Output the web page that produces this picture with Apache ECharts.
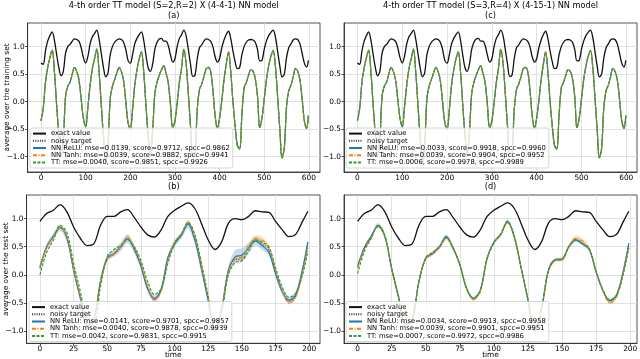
<!DOCTYPE html>
<html>
<head>
<meta http-equiv="Content-Type" content="text/html; charset=UTF-8">
<title>tt_nn_average</title>
<script src="https://cdn.jsdelivr.net/npm/echarts@6.0.0/dist/echarts.min.js"></script>
<style>
  html, body { margin: 0; padding: 0; background: #fff; }
  #main { width: 640px; height: 359px; }
</style>
</head>
<body>
<div id="main"></div>
<script type="text/javascript">
// sample grid: every 5th time step (last point is 599 / 199)
var trainT = [];
for (var t = 0; t < 600; t += 5) trainT.push(t);
trainT.push(599);
var testT = [];
for (var t = 0; t < 200; t += 5) testT.push(t);
testT.push(199);

var trainTicks = [0, 100, 200, 300, 400, 500, 600];
var testTicks = [0, 25, 50, 75, 100, 125, 150, 175, 200];
var yTicks = [-1, -0.5, 0, 0.5, 1];

// ---- training set (top row) ----
var trainExact = [
  0.70, 0.68, 0.92, 1.10, 1.20, 1.27, 1.12, 0.86, 0.62, 0.47,
  0.55, 0.88, 1.00, 1.04, 1.10, 1.14, 1.13, 1.10, 0.98, 0.80,
  0.70, 0.82, 1.05, 1.18, 1.24, 1.30, 1.14, 0.88, 0.62, 0.45,
  0.52, 0.85, 1.00, 1.08, 1.12, 1.14, 1.13, 1.08, 0.95, 0.75,
  0.70, 0.85, 1.05, 1.15, 1.22, 1.27, 1.12, 0.85, 0.62, 0.55,
  0.68, 0.95, 1.08, 1.14, 1.15, 1.10, 1.10, 1.02, 0.85, 0.72,
  0.78, 1.00, 1.15, 1.22, 1.30, 1.20, 0.95, 0.68, 0.46, 0.48,
  0.78, 0.98, 1.03, 1.10, 1.14, 1.13, 1.10, 1.00, 0.82, 0.72,
  0.78, 0.98, 1.12, 1.22, 1.28, 1.15, 0.92, 0.72, 0.60, 0.62,
  0.85, 1.00, 1.08, 1.12, 1.13, 1.12, 1.08, 0.95, 0.74, 0.75,
  0.95, 1.10, 1.20, 1.26, 1.30, 1.18, 0.92, 0.65, 0.45, 0.50,
  0.80, 0.98, 1.05, 1.12, 1.14, 1.13, 1.05, 0.88, 0.70, 0.63,
  0.75
];
var trainTarget = [
  -0.33, -0.14, 0.32, 0.60, 0.80, 0.95, 0.55, -0.08, -0.62, -1.02,
  -0.68, 0.08, 0.27, 0.36, 0.50, 0.63, 0.55, 0.38, 0.02, -0.32,
  -0.47, -0.12, 0.28, 0.58, 0.78, 0.97, 0.55, -0.08, -0.66, -1.10,
  -0.78, 0.03, 0.27, 0.40, 0.53, 0.63, 0.55, 0.36, -0.02, -0.40,
  -0.50, -0.17, 0.28, 0.57, 0.78, 0.92, 0.55, -0.07, -0.62, -0.96,
  -0.53, 0.13, 0.34, 0.48, 0.58, 0.66, 0.52, 0.33, -0.07, -0.48,
  -0.37, -0.04, 0.33, 0.61, 0.96, 0.70, 0.13, -0.47, -1.01, -0.94,
  -0.13, 0.21, 0.32, 0.45, 0.60, 0.63, 0.54, 0.20, -0.27, -0.50,
  -0.32, 0.00, 0.38, 0.67, 0.91, 0.55, -0.02, -0.47, -0.82, -0.87,
  -0.23, 0.24, 0.35, 0.48, 0.58, 0.56, 0.41, 0.08, -0.48, -0.32,
  0.03, 0.38, 0.64, 0.82, 0.94, 0.65, 0.08, -0.52, -1.03, -0.84,
  -0.08, 0.19, 0.30, 0.45, 0.61, 0.55, 0.39, 0.03, -0.37, -0.50,
  -0.27
];
// the three fitted curves overlap at this size on the training set
var trainFit = [
  -0.35, -0.12, 0.35, 0.62, 0.80, 0.93, 0.55, -0.05, -0.60, -1.00,
  -0.70, 0.10, 0.28, 0.35, 0.50, 0.62, 0.55, 0.40, 0.05, -0.30,
  -0.45, -0.10, 0.30, 0.60, 0.78, 0.95, 0.55, -0.05, -0.65, -1.10,
  -0.80, 0.05, 0.28, 0.40, 0.52, 0.62, 0.55, 0.38, 0.00, -0.38,
  -0.50, -0.15, 0.30, 0.58, 0.78, 0.90, 0.55, -0.05, -0.60, -0.95,
  -0.55, 0.15, 0.35, 0.48, 0.58, 0.65, 0.52, 0.35, -0.05, -0.47,
  -0.35, -0.02, 0.35, 0.62, 0.95, 0.70, 0.15, -0.45, -1.00, -0.95,
  -0.15, 0.22, 0.32, 0.45, 0.60, 0.62, 0.55, 0.22, -0.25, -0.48,
  -0.30, 0.02, 0.40, 0.68, 0.90, 0.55, 0.00, -0.45, -0.80, -0.86,
  -0.25, 0.25, 0.35, 0.48, 0.58, 0.55, 0.42, 0.10, -0.47, -0.30,
  0.05, 0.40, 0.65, 0.82, 0.93, 0.65, 0.10, -0.50, -1.02, -0.85,
  -0.10, 0.20, 0.30, 0.45, 0.60, 0.55, 0.40, 0.05, -0.35, -0.48,
  -0.25
];

// ---- test set (bottom row) ----
var testExact = [
  0.95, 1.09, 1.15, 1.25, 1.12, 0.85, 0.65, 0.52, 0.55, 0.88,
  1.04, 1.04, 1.12, 1.16, 1.02, 0.85, 0.71, 0.67, 0.80, 1.04,
  1.15, 1.22, 1.28, 1.18, 0.91, 0.62, 0.45, 0.59, 0.92, 1.00,
  0.98, 1.04, 1.14, 1.12, 1.11, 0.95, 0.80, 0.68, 0.72, 0.95,
  1.13
];
var testTarget = [
  0.15, 0.50, 0.70, 0.85, 0.68, 0.10, -0.40, -0.88, -0.78, -0.10,
  0.28, 0.36, 0.48, 0.66, 0.45, 0.18, -0.25, -0.44, -0.27, 0.30,
  0.58, 0.72, 0.93, 0.65, 0.12, -0.45, -1.00, -0.58, 0.08, 0.27,
  0.28, 0.50, 0.62, 0.55, 0.45, 0.05, -0.28, -0.47, -0.38, 0.05,
  0.57
];
var reluB = [
  0.12, 0.50, 0.68, 0.84, 0.65, 0.08, -0.42, -0.90, -0.80, -0.12,
  0.30, 0.38, 0.50, 0.64, 0.46, 0.15, -0.25, -0.42, -0.26, 0.30,
  0.55, 0.70, 0.90, 0.62, 0.10, -0.46, -1.00, -0.60, 0.08, 0.32,
  0.35, 0.48, 0.60, 0.52, 0.40, 0.02, -0.30, -0.45, -0.35, 0.10,
  0.58
];
var tanhB = [
  0.15, 0.48, 0.68, 0.85, 0.68, 0.10, -0.40, -0.88, -0.78, -0.12,
  0.28, 0.38, 0.50, 0.66, 0.48, 0.20, -0.20, -0.45, -0.30, 0.25,
  0.58, 0.72, 0.92, 0.68, 0.15, -0.42, -0.98, -0.62, 0.05, 0.28,
  0.32, 0.50, 0.64, 0.62, 0.48, 0.08, -0.28, -0.50, -0.40, 0.05,
  0.48
];
var ttB = [
  0.00, 0.40, 0.62, 0.88, 0.75, 0.20, -0.30, -0.82, -0.85, -0.20,
  0.32, 0.45, 0.52, 0.62, 0.50, 0.25, -0.12, -0.35, -0.25, 0.20,
  0.55, 0.72, 0.93, 0.72, 0.20, -0.38, -0.95, -0.65, 0.00, 0.22,
  0.25, 0.42, 0.62, 0.58, 0.50, 0.12, -0.22, -0.40, -0.33, 0.00,
  0.42
];
var reluSpreadB = [
  0.05, 0.06, 0.06, 0.06, 0.06, 0.06, 0.06, 0.08, 0.08, 0.08,
  0.06, 0.06, 0.08, 0.08, 0.08, 0.06, 0.06, 0.06, 0.06, 0.06,
  0.06, 0.06, 0.08, 0.08, 0.08, 0.08, 0.08, 0.08, 0.08, 0.12,
  0.12, 0.10, 0.08, 0.08, 0.06, 0.06, 0.06, 0.06, 0.06, 0.06,
  0.06
];
var tanhSpreadB = [
  0.03, 0.03, 0.03, 0.03, 0.03, 0.03, 0.03, 0.03, 0.03, 0.03,
  0.03, 0.03, 0.03, 0.04, 0.03, 0.03, 0.03, 0.03, 0.03, 0.03,
  0.03, 0.03, 0.03, 0.03, 0.03, 0.03, 0.03, 0.03, 0.03, 0.03,
  0.03, 0.04, 0.06, 0.06, 0.04, 0.03, 0.03, 0.03, 0.03, 0.03,
  0.03
];
var reluD = [
  0.15, 0.48, 0.68, 0.88, 0.68, 0.10, -0.40, -0.88, -0.80, -0.12,
  0.30, 0.38, 0.50, 0.68, 0.48, 0.18, -0.25, -0.42, -0.28, 0.30,
  0.58, 0.72, 0.95, 0.68, 0.12, -0.45, -1.00, -0.60, 0.08, 0.27,
  0.28, 0.50, 0.62, 0.55, 0.45, 0.05, -0.28, -0.46, -0.36, 0.08,
  0.56
];
var tanhD = [
  0.12, 0.46, 0.66, 0.87, 0.67, 0.12, -0.38, -0.88, -0.80, -0.12,
  0.28, 0.38, 0.48, 0.65, 0.48, 0.18, -0.24, -0.44, -0.30, 0.28,
  0.57, 0.72, 0.94, 0.66, 0.12, -0.44, -1.00, -0.60, 0.06, 0.26,
  0.27, 0.50, 0.65, 0.60, 0.46, 0.06, -0.28, -0.50, -0.40, 0.05,
  0.50
];
var ttD = [
  0.02, 0.42, 0.65, 0.88, 0.70, 0.12, -0.38, -0.88, -0.80, -0.12,
  0.30, 0.40, 0.50, 0.66, 0.48, 0.18, -0.24, -0.42, -0.28, 0.28,
  0.57, 0.72, 0.95, 0.68, 0.12, -0.44, -1.00, -0.60, 0.06, 0.26,
  0.27, 0.50, 0.62, 0.56, 0.46, 0.06, -0.27, -0.45, -0.36, 0.02,
  0.48
];
var reluSpreadD = [
  0.03, 0.03, 0.03, 0.04, 0.03, 0.03, 0.03, 0.03, 0.03, 0.03,
  0.03, 0.03, 0.03, 0.04, 0.03, 0.03, 0.03, 0.03, 0.03, 0.03,
  0.03, 0.03, 0.04, 0.03, 0.03, 0.03, 0.03, 0.03, 0.03, 0.03,
  0.03, 0.03, 0.04, 0.03, 0.03, 0.03, 0.03, 0.03, 0.03, 0.03,
  0.03
];
var tanhSpreadD = [
  0.03, 0.03, 0.03, 0.03, 0.03, 0.03, 0.03, 0.03, 0.03, 0.03,
  0.03, 0.03, 0.03, 0.04, 0.03, 0.03, 0.03, 0.03, 0.03, 0.03,
  0.03, 0.03, 0.03, 0.03, 0.03, 0.03, 0.03, 0.03, 0.03, 0.03,
  0.03, 0.04, 0.05, 0.05, 0.04, 0.03, 0.03, 0.03, 0.03, 0.03,
  0.03
];

var namesA = ['NN ReLU: mse=0.0139, score=0.9712, spcc=0.9862',
              'NN Tanh: mse=0.0039, score=0.9882, spcc=0.9941',
              'TT: mse=0.0040, score=0.9851, spcc=0.9926'];
var namesB = ['NN ReLU: mse=0.0141, score=0.9701, spcc=0.9857',
              'NN Tanh: mse=0.0040, score=0.9878, spcc=0.9939',
              'TT: mse=0.0042, score=0.9831, spcc=0.9915'];
var namesC = ['NN ReLU: mse=0.0033, score=0.9918, spcc=0.9960',
              'NN Tanh: mse=0.0039, score=0.9904, spcc=0.9952',
              'TT: mse=0.0006, score=0.9978, spcc=0.9989'];
var namesD = ['NN ReLU: mse=0.0034, score=0.9913, spcc=0.9958',
              'NN Tanh: mse=0.0039, score=0.9901, spcc=0.9951',
              'TT: mse=0.0007, score=0.9972, spcc=0.9986'];

var FONT = 'DejaVu Sans';
var C_EXACT = '#111111', C_RELU = '#1f77b4', C_TANH = '#ff7f0e', C_TT = '#2ca02c';

var panels = [
  {box: [27.6, 23, 292.4, 149], x: [-30, 625], y: [-1.28, 1.43], step: 100, xt: trainTicks,
   t: trainT, exact: trainExact, target: trainTarget, relu: trainFit, tanh: trainFit, tt: trainFit,
   names: namesA, yname: 'average over the training set', xname: '', leg: [30, 128]},
  {box: [26.5, 195, 293.5, 148.3], x: [-10, 208], y: [-1.22, 1.42], step: 25, xt: testTicks,
   t: testT, exact: testExact, target: testTarget, relu: reluB, tanh: tanhB, tt: ttB,
   rs: reluSpreadB, ts: tanhSpreadB,
   names: namesB, yname: 'average over the test set', xname: 'time', leg: [29, 301.5]},
  {box: [344, 23, 293, 149], x: [-30, 624], y: [-1.28, 1.43], step: 100, xt: trainTicks,
   t: trainT, exact: trainExact, target: trainTarget, relu: trainFit, tanh: trainFit, tt: trainFit,
   names: namesC, yname: '', xname: '', leg: [346, 128]},
  {box: [344, 195, 293, 148.3], x: [-10, 205], y: [-1.22, 1.42], step: 25, xt: testTicks,
   t: testT, exact: testExact, target: testTarget, relu: reluD, tanh: tanhD, tt: ttD,
   rs: reluSpreadD, ts: tanhSpreadD,
   names: namesD, yname: '', xname: 'time', leg: [346, 301.5]}
];

function pts(ts, ys) {
  return ts.map(function (t, i) { return [t, ys[i]]; });
}

function lineSeries(name, gi, data, color, width, type) {
  return {
    type: 'line', name: name, xAxisIndex: gi, yAxisIndex: gi, data: data,
    symbol: 'none', smooth: 0.35, silent: true,
    itemStyle: {color: color},
    lineStyle: {color: color, width: width, type: type}
  };
}

// shaded spread round a fitted curve, drawn as one polygon through the axes' coord()
function bandSeries(gi, ts, ys, spread, color) {
  return {
    type: 'custom', xAxisIndex: gi, yAxisIndex: gi, silent: true,
    data: [[ts[0], ys[0]]],
    renderItem: function (params, api) {
      var upper = [], lower = [];
      for (var i = 0; i < ts.length; i++) {
        upper.push(api.coord([ts[i], ys[i] + spread[i]]));
        lower.unshift(api.coord([ts[i], ys[i] - spread[i]]));
      }
      return {type: 'polygon', shape: {points: upper.concat(lower), smooth: 0.3},
              style: {fill: color}};
    }
  };
}

function label(x, y, text) {
  return {type: 'text', x: x, y: y, style: {text: text, align: 'center', verticalAlign: 'middle',
          fontSize: 8.2, fontFamily: FONT, fill: '#000'}};
}

var option = {
  animation: false,
  backgroundColor: '#ffffff',
  textStyle: {fontFamily: FONT},
  grid: [], xAxis: [], yAxis: [], legend: [], series: [],
  graphic: [
    label(173.8, 6, '4-th order TT model (S=2,R=2) X (4-4-1) NN model'),
    label(173.8, 15.5, '(a)'),
    label(173.8, 187, '(b)'),
    label(490.5, 6, '4-th order TT model (S=3,R=4) X (4-15-1) NN model'),
    label(490.5, 15.5, '(c)'),
    label(490.5, 187, '(d)')
  ]
};

panels.forEach(function (p, i) {
  option.grid.push({
    left: p.box[0], top: p.box[1], width: p.box[2], height: p.box[3],
    show: true, borderColor: '#262626', borderWidth: 0.8, backgroundColor: 'transparent',
    containLabel: false, outerBoundsMode: 'none'
  });
  option.xAxis.push({
    type: 'value', gridIndex: i, min: p.x[0], max: p.x[1],
    minInterval: p.step, maxInterval: p.step,
    axisLine: {show: true, onZero: false, lineStyle: {color: '#262626', width: 0.8}},
    axisTick: {show: true, length: 2.5, customValues: p.xt, lineStyle: {color: '#262626', width: 0.8}},
    axisLabel: {customValues: p.xt, fontSize: 7.4, color: '#000', margin: 2.5, fontFamily: FONT},
    splitLine: {show: true, lineStyle: {color: '#d9d9d9', width: 0.8}},
    name: p.xname, nameLocation: 'middle', nameGap: 8.5, nameMoveOverlap: false,
    nameTextStyle: {fontSize: 7.4, color: '#000', fontFamily: FONT}
  });
  option.yAxis.push({
    type: 'value', gridIndex: i, min: p.y[0], max: p.y[1],
    minInterval: 0.5, maxInterval: 0.5,
    axisLine: {show: true, onZero: false, lineStyle: {color: '#262626', width: 0.8}},
    axisTick: {show: true, length: 2.5, customValues: yTicks, lineStyle: {color: '#262626', width: 0.8}},
    axisLabel: {customValues: yTicks, fontSize: 7.4, color: '#000', margin: 3, fontFamily: FONT,
      formatter: function (v) { return (v < 0 ? '\u2212' : '') + Math.abs(v).toFixed(1); }},
    splitLine: {show: true, lineStyle: {color: '#d9d9d9', width: 0.8}},
    name: p.yname, nameLocation: 'middle', nameGap: 17, nameRotate: 90, nameMoveOverlap: false,
    nameTextStyle: {fontSize: 7.4, color: '#000', fontFamily: FONT}
  });

  option.series.push(lineSeries('exact value', i, pts(p.t, p.exact), C_EXACT, 1.3, 'solid'));
  option.series.push(lineSeries('noisy target', i, pts(p.t, p.target), '#333333', 0.9, [1, 1.3]));
  if (p.rs) option.series.push(bandSeries(i, p.t, p.relu, p.rs, 'rgba(31,119,180,0.25)'));
  option.series.push(lineSeries(p.names[0], i, pts(p.t, p.relu), C_RELU, 1.2, 'solid'));
  if (p.ts) option.series.push(bandSeries(i, p.t, p.tanh, p.ts, 'rgba(255,127,14,0.25)'));
  option.series.push(lineSeries(p.names[1], i, pts(p.t, p.tanh), C_TANH, 1.2, [4, 1.5, 1, 1.5]));
  option.series.push(lineSeries(p.names[2], i, pts(p.t, p.tt), C_TT, 1.2, [3, 1.5]));

  option.legend.push({
    orient: 'vertical', left: p.leg[0], top: p.leg[1],
    padding: [2, 3, 2, 2], itemGap: 0, itemWidth: 13, itemHeight: 7,
    backgroundColor: 'rgba(255,255,255,0.8)', borderColor: '#cccccc', borderWidth: 0.8, borderRadius: 2,
    selectedMode: false,
    itemStyle: {opacity: 0},
    textStyle: {fontSize: 6.8, lineHeight: 7.2, color: '#000', fontFamily: FONT},
    data: ['exact value', 'noisy target', p.names[0], p.names[1], p.names[2]]
  });
});

var myChart = echarts.init(document.getElementById('main'));
myChart.setOption(option);
</script>
</body>
</html>
